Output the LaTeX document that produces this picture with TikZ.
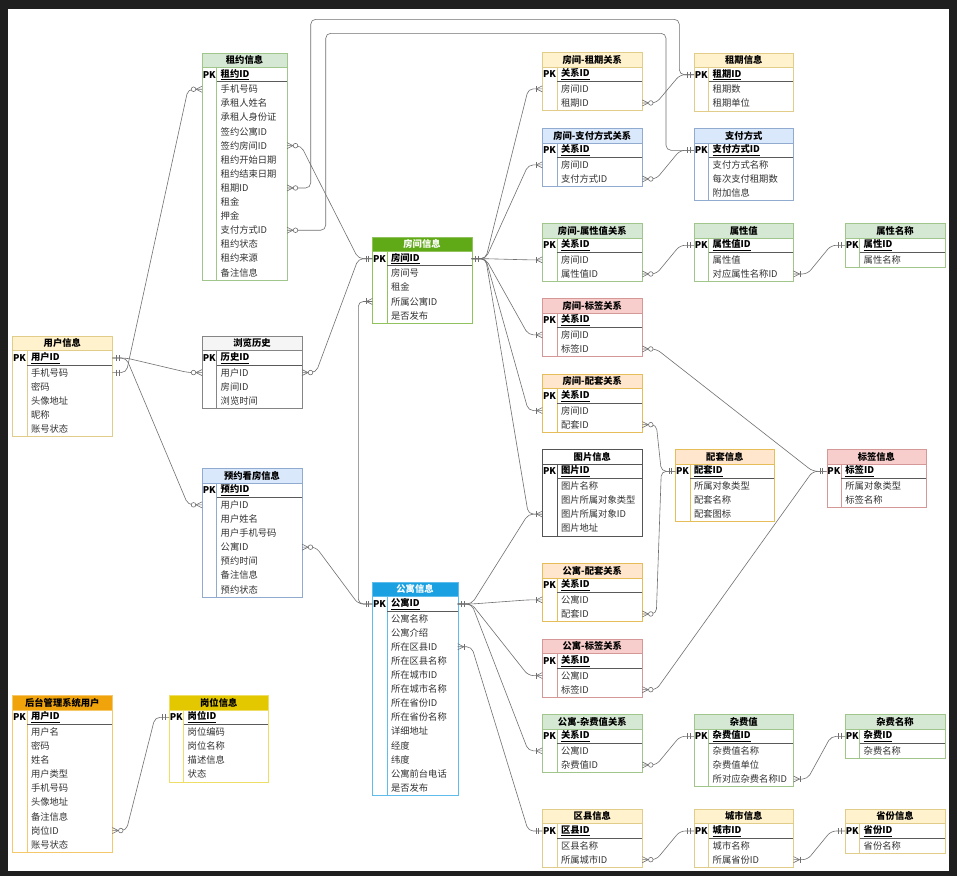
\documentclass[tikz,border=0pt]{standalone}
\usepackage{fontspec}
\setmainfont{Noto Sans CJK SC}

\definecolor{bgdark}{HTML}{1F1F1F}
\definecolor{linegray}{HTML}{707070}
\definecolor{pkgray}{HTML}{5A5A5A}
\definecolor{fieldtext}{HTML}{333333}
% header fills, borders and title colours
\definecolor{hdgreen}{HTML}{D5E8D4}  \definecolor{bgreen}{HTML}{82B366}  \colorlet{bdgreen}{bgreen!75!white}  \colorlet{txgreen}{black}
\definecolor{hdyellow}{HTML}{FFF2CC} \definecolor{byellow}{HTML}{D6B656} \colorlet{bdyellow}{byellow!70!white} \colorlet{txyellow}{black}
\definecolor{hdblue}{HTML}{DAE8FC}   \definecolor{bblue}{HTML}{6C8EBF}   \colorlet{bdblue}{bblue!75!white}     \colorlet{txblue}{black}
\definecolor{hdred}{HTML}{F8CECC}    \definecolor{bred}{HTML}{B85450}    \colorlet{bdred}{bred!60!white}       \colorlet{txred}{black}
\definecolor{hdorange}{HTML}{FFE6CC} \definecolor{borange}{HTML}{D79B00} \colorlet{bdorange}{borange!65!white} \colorlet{txorange}{black}
\definecolor{hdgray}{HTML}{F5F5F5}   \definecolor{bgray}{HTML}{666666}   \colorlet{bdgray}{bgray!80!white}     \colorlet{txgray}{black}
\definecolor{hdwhite}{HTML}{FFFFFF}  \definecolor{bwhite}{HTML}{555555}  \colorlet{bdwhite}{bwhite}             \colorlet{txwhite}{black}
\definecolor{hdgrass}{HTML}{60A917}  \colorlet{bdgrass}{hdgrass!70!white} \colorlet{txgrass}{white}
\definecolor{hdsky}{HTML}{1BA1E2}    \colorlet{bdsky}{hdsky!70!white}     \colorlet{txsky}{white}
\definecolor{hdamber}{HTML}{F0A30A}  \colorlet{bdamber}{hdamber!60!white} \colorlet{txamber}{black}
\definecolor{hdgold}{HTML}{E3C800}   \colorlet{bdgold}{hdgold!60!white}   \colorlet{txgold}{black}

\newcommand{\erfont}{\fontsize{9.3}{11}\selectfont}

% table: name, x, y, width, theme, title, pk, fields
\newcommand{\ertable}[8]{%
  \begin{scope}[shift={(#2,#3)}]
    \foreach \fld [count=\ri] in {#8} {\xdef\errows{\ri}}
    \pgfmathsetmacro\erbot{30+\errows*14.1}
    \fill[white] (0,0) rectangle (#4,\erbot);
    \fill[hd#5] (0,0) rectangle (#4,14.5);
    \draw[bd#5] (0,14.5) -- (#4,14.5) (14.5,14.5) -- (14.5,\erbot);
    \draw[pkline] (14.5,29) -- (#4,29);
    \draw[bd#5] (0,0) rectangle (#4,\erbot);
    \node[erhead, text=tx#5] (#1) at ({#4/2},7.25) {#6};
    \node[erhead] (#1-pk) at (7.25,22) {PK};
    \node[erfield, font=\erfont\bfseries, text=black] (#1-0) at (18.5,22) {\underline{#7}};
    \coordinate (#1-0-l) at (0,22);
    \coordinate (#1-0-r) at (#4,22);
    \foreach \fld [count=\ri] in {#8} {
      \node[erfield] (#1-\ri) at (18.5,{29.5+(\ri-0.5)*14.1}) {\fld};
      \coordinate (#1-\ri-l) at (0,{29.5+(\ri-0.5)*14.1});
      \coordinate (#1-\ri-r) at (#4,{29.5+(\ri-0.5)*14.1});
    }
  \end{scope}}

% connector from a right side to a left side
\newcommand{\erlink}[2]{\draw[relline] (#1) -- ++(14,0) -- ([xshift=-14pt]#2) -- (#2);}
% end marks: point, direction (1 = to the right, -1 = to the left)
\newcommand{\mkone}[2]{\draw[relmark] ([xshift={(#2)*4pt}]#1) +(0,-3) -- +(0,3) ([xshift={(#2)*6.5pt}]#1) +(0,-3) -- +(0,3);}
\newcommand{\mkfoot}[2]{\draw[relmark] ([xshift={(#2)*6pt}]#1) -- ([yshift=3pt]#1) ([xshift={(#2)*6pt}]#1) -- ([yshift=-3pt]#1);}
\newcommand{\mkzm}[2]{\mkfoot{#1}{#2}\draw[relmark,fill=white] ([xshift={(#2)*8.5pt}]#1) circle[radius=2.3pt];}
\newcommand{\mkom}[2]{\mkfoot{#1}{#2}\draw[relmark] ([xshift={(#2)*6.5pt}]#1) +(0,-3) -- +(0,3);}

\begin{document}
\begin{tikzpicture}[x=1pt,y=-1pt,
  erhead/.style={font=\erfont\bfseries, inner sep=0},
  erfield/.style={font=\erfont, inner sep=0, anchor=west, text=fieldtext},
  pkline/.style={draw=pkgray, line width=1pt},
  relline/.style={draw=linegray, line width=0.6pt, rounded corners=5pt},
  relmark/.style={draw=linegray, line width=0.6pt}]
  \useasboundingbox (0,0) rectangle (957,876);
  \fill[bgdark] (0,0) rectangle (957,876);
  \fill[white] (8,9) rectangle (949,871);

  % left column
  \ertable{user}{12.3}{336}{100}{yellow}{用户信息}{用户ID}{手机号码,密码,头像地址,昵称,账号状态}
  \ertable{admin}{12.3}{695.3}{100}{amber}{后台管理系统用户}{用户ID}{用户名,密码,姓名,用户类型,手机号码,头像地址,备注信息,岗位ID,账号状态}
  \ertable{post}{169}{695.3}{99.5}{gold}{岗位信息}{岗位ID}{岗位编码,岗位名称,描述信息,状态}
  \ertable{lease}{202}{52.7}{85}{green}{租约信息}{租约ID}{手机号码,承租人姓名,承租人身份证,签约公寓ID,签约房间ID,租约开始日期,租约结束日期,租期ID,租金,押金,支付方式ID,租约状态,租约来源,备注信息}
  \ertable{hist}{202}{336}{100}{gray}{浏览历史}{历史ID}{用户ID,房间ID,浏览时间}
  \ertable{book}{202}{468.3}{100}{blue}{预约看房信息}{预约ID}{用户ID,用户姓名,用户手机号码,公寓ID,预约时间,备注信息,预约状态}

  % room and apartment
  \ertable{room}{372.3}{236.7}{99.4}{grass}{房间信息}{房间ID}{房间号,租金,所属公寓ID,是否发布}
  \ertable{apt}{372.3}{582}{85.4}{sky}{公寓信息}{公寓ID}{公寓名称,公寓介绍,所在区县ID,所在区县名称,所在城市ID,所在城市名称,所在省份ID,所在省份名称,详细地址,经度,纬度,公寓前台电话,是否发布}

  % relation column
  \ertable{rterm}{542.3}{52.3}{100}{yellow}{房间-租期关系}{关系ID}{房间ID,租期ID}
  \ertable{rpay}{542.3}{128.3}{100}{blue}{房间-支付方式关系}{关系ID}{房间ID,支付方式ID}
  \ertable{rattr}{542.3}{223.3}{100}{green}{房间-属性值关系}{关系ID}{房间ID,属性值ID}
  \ertable{rtag}{542.3}{298.3}{100}{red}{房间-标签关系}{关系ID}{房间ID,标签ID}
  \ertable{rfac}{542.3}{374}{100}{orange}{房间-配套关系}{关系ID}{房间ID,配套ID}
  \ertable{pic}{542.3}{449.3}{100}{white}{图片信息}{图片ID}{图片名称,图片所属对象类型,图片所属对象ID,图片地址}
  \ertable{afac}{542.3}{563.3}{100}{orange}{公寓-配套关系}{关系ID}{公寓ID,配套ID}
  \ertable{atag}{542.3}{639}{100}{red}{公寓-标签关系}{关系ID}{公寓ID,标签ID}
  \ertable{afee}{542.3}{714.3}{100}{green}{公寓-杂费值关系}{关系ID}{公寓ID,杂费值ID}
  \ertable{dist}{542.3}{809}{100}{yellow}{区县信息}{区县ID}{区县名称,所属城市ID}

  % right columns
  \ertable{term}{694}{52.7}{99.5}{yellow}{租期信息}{租期ID}{租期数,租期单位}
  \ertable{pay}{694}{128.3}{99.5}{blue}{支付方式}{支付方式ID}{支付方式名称,每次支付租期数,附加信息}
  \ertable{attv}{694}{223.3}{99.5}{green}{属性值}{属性值ID}{属性值,对应属性名称ID}
  \ertable{attn}{845}{223.3}{100}{green}{属性名称}{属性ID}{属性名称}
  \ertable{fac}{675.3}{449.3}{99}{orange}{配套信息}{配套ID}{所属对象类型,配套名称,配套图标}
  \ertable{tag}{826.7}{449.3}{99.3}{red}{标签信息}{标签ID}{所属对象类型,标签名称}
  \ertable{feev}{694}{714.3}{99.5}{green}{杂费值}{杂费值ID}{杂费值名称,杂费值单位,所对应杂费名称ID}
  \ertable{feen}{845}{714.3}{100}{green}{杂费名称}{杂费ID}{杂费名称}
  \ertable{city}{694}{809}{99.5}{yellow}{城市信息}{城市ID}{城市名称,所属省份ID}
  \ertable{prov}{845}{809}{100}{yellow}{省份信息}{省份ID}{省份名称}

  % connectors
  \coordinate (tk-a) at (310.7,19.3);
  \coordinate (tk-b) at (325.7,33.3);
  \erlink{user-1-r}{lease-1-l}
  \erlink{user-0-r}{hist-1-l}
  \erlink{user-0-r}{book-1-l}
  \erlink{lease-5-r}{room-0-l}
  \draw[relline] (lease-8-r) -| (tk-a) -| ([xshift=-14.7pt]term-0-l) -- (term-0-l);
  \draw[relline] (lease-11-r) -| (tk-b) -| ([xshift=-28pt]pay-0-l) -- (pay-0-l);
  \erlink{hist-1-r}{room-0-l}
  \erlink{book-4-r}{apt-0-l}
  \draw[relline] (room-3-l) -- ++(-14,0) |- (apt-0-l);
  \erlink{admin-8-r}{post-0-l}
  \erlink{room-0-r}{rterm-1-l}
  \erlink{room-0-r}{rpay-1-l}
  \erlink{room-0-r}{rattr-1-l}
  \erlink{room-0-r}{rtag-1-l}
  \erlink{room-0-r}{rfac-1-l}
  \erlink{room-0-r}{pic-3-l}
  \erlink{apt-0-r}{pic-3-l}
  \erlink{apt-0-r}{afac-1-l}
  \erlink{apt-0-r}{atag-1-l}
  \erlink{apt-0-r}{afee-1-l}
  \erlink{apt-3-r}{dist-0-l}
  \erlink{rterm-2-r}{term-0-l}
  \erlink{rpay-2-r}{pay-0-l}
  \erlink{rattr-2-r}{attv-0-l}
  \erlink{attv-2-r}{attn-0-l}
  \erlink{rtag-2-r}{tag-0-l}
  \erlink{rfac-2-r}{fac-0-l}
  \erlink{afac-2-r}{fac-0-l}
  \erlink{atag-2-r}{tag-0-l}
  \erlink{afee-2-r}{feev-0-l}
  \erlink{feev-3-r}{feen-0-l}
  \erlink{dist-2-r}{city-0-l}
  \erlink{city-2-r}{prov-0-l}

  % end marks
  \mkone{user-0-r}{1} \mkone{user-1-r}{1}
  \mkzm{lease-1-l}{-1} \mkzm{hist-1-l}{-1} \mkzm{book-1-l}{-1}
  \mkzm{lease-5-r}{1} \mkzm{lease-8-r}{1} \mkzm{lease-11-r}{1}
  \mkzm{hist-1-r}{1} \mkzm{book-4-r}{1} \mkzm{admin-8-r}{1}
  \mkone{room-0-l}{-1} \mkone{apt-0-l}{-1} \mkone{post-0-l}{-1}
  \mkone{room-0-r}{1} \mkone{apt-0-r}{1}
  \mkom{room-3-l}{-1} \mkom{apt-3-r}{1}
  \foreach \rel in {rterm-1,rpay-1,rattr-1,rtag-1,rfac-1,pic-3,afac-1,atag-1,afee-1} {\mkom{\rel-l}{-1}}
  \foreach \rel in {rterm-2,rpay-2,rattr-2,rtag-2,rfac-2,afac-2,atag-2,afee-2,dist-2} {\mkzm{\rel-r}{1}}
  \foreach \rel in {term,pay,attv,attn,fac,tag,feev,feen,dist,city,prov} {\mkone{\rel-0-l}{-1}}
  \mkom{attv-2-r}{1} \mkom{feev-3-r}{1} \mkom{city-2-r}{1}
\end{tikzpicture}
\end{document}
